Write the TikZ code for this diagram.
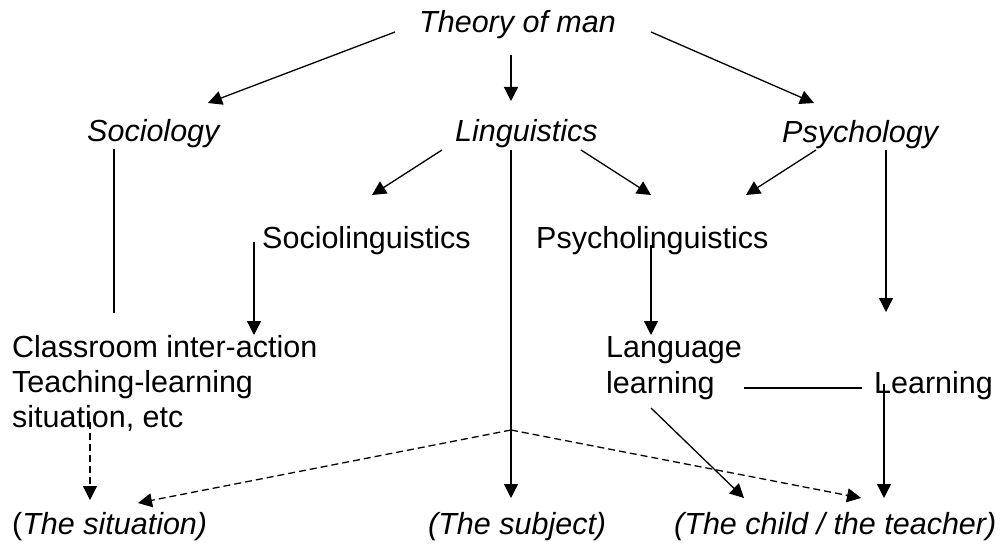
\documentclass[tikz,border=0pt]{standalone}
\usepackage{fontspec}
\setmainfont{Liberation Sans}
\usetikzlibrary{arrows.meta}
\begin{document}
\begin{tikzpicture}[x=1pt,y=-1pt,
  lbl/.style={inner sep=0pt, anchor=base west, font=\fontsize{30.5}{36}\selectfont},
  ilbl/.style={lbl, font=\fontsize{30.5}{36}\selectfont\itshape},
  conn/.style={line width=1.3pt},
  arr/.style={conn, -{Triangle[length=14pt,width=14pt]}},
  darr/.style={arr, dash pattern=on 7pt off 4pt}]
\useasboundingbox (0,0) rectangle (1008,545);
\fill[white] (0,0) rectangle (1008,545);
% texts
\node[ilbl] (theory) at (419,33) {Theory of man};
\node[ilbl] (soc) at (87,142) {Sociology};
\node[ilbl] (ling) at (455,142) {Linguistics};
\node[ilbl] (psy) at (782,143) {Psychology};
\node[lbl] (socling) at (262,248) {Sociolinguistics};
\node[lbl] (psyling) at (536,248) {Psycholinguistics};
\node[lbl] (class1) at (12,357) {Classroom inter-action};
\node[lbl] (class2) at (12,392) {Teaching-learning};
\node[lbl] (class3) at (12,427) {situation, etc};
\node[lbl] (lang1) at (606,357) {Language};
\node[lbl] (lang2) at (606,393) {learning};
\node[lbl] (learn) at (874,393) {Learning};
\node[lbl] (sit) at (12,534) {(\textit{The situation)}};
\node[ilbl] (subj) at (428,534) {(The subject)};
\node[ilbl] (child) at (674,534) {(The child / the teacher)};
% connector end points
\coordinate (th-s) at (395,32);   \coordinate (soc-n) at (208,103);
\coordinate (th-l) at (511,55);   \coordinate (ling-n) at (511,101);
\coordinate (th-p) at (651,32);   \coordinate (psy-n) at (814,103);
\coordinate (soc-s) at (114,149); \coordinate (class-n) at (114,313);
\coordinate (ling-sw) at (442,150); \coordinate (socling-n) at (372,195);
\coordinate (ling-se) at (581,150); \coordinate (psyling-nl) at (651,195);
\coordinate (psy-sw) at (816,150); \coordinate (psyling-nr) at (746,195);
\coordinate (psy-s) at (886,150); \coordinate (learn-n) at (886,312);
\coordinate (ling-s) at (511,150); \coordinate (subj-n) at (511,498);
\coordinate (socling-s) at (254,242); \coordinate (class1-n) at (254,335);
\coordinate (psyling-s) at (651,245); \coordinate (lang1-n) at (651,335);
\coordinate (lang2-e) at (744,388); \coordinate (learn-w) at (862,388);
\coordinate (learn-s) at (884,384); \coordinate (child-nr) at (884,498);
\coordinate (lang2-s) at (651,408); \coordinate (child-nl) at (744,498);
\coordinate (class3-s) at (90,422); \coordinate (sit-nl) at (90,500);
\coordinate (apex) at (511,430);
\coordinate (sit-nr) at (138,503); \coordinate (child-nm) at (861,498);
% connectors
\draw[arr] (th-s) -- (soc-n);
\draw[arr] (th-l) -- (ling-n);
\draw[arr] (th-p) -- (psy-n);
\draw[conn] (soc-s) -- (class-n);
\draw[arr] (ling-sw) -- (socling-n);
\draw[arr] (ling-se) -- (psyling-nl);
\draw[arr] (psy-sw) -- (psyling-nr);
\draw[arr] (psy-s) -- (learn-n);
\draw[arr] (ling-s) -- (subj-n);
\draw[arr] (socling-s) -- (class1-n);
\draw[arr] (psyling-s) -- (lang1-n);
\draw[conn] (lang2-e) -- (learn-w);
\draw[arr] (learn-s) -- (child-nr);
\draw[arr] (lang2-s) -- (child-nl);
\draw[darr] (class3-s) -- (sit-nl);
\draw[darr] (apex) -- (sit-nr);
\draw[darr] (apex) -- (child-nm);
\end{tikzpicture}
\end{document}
